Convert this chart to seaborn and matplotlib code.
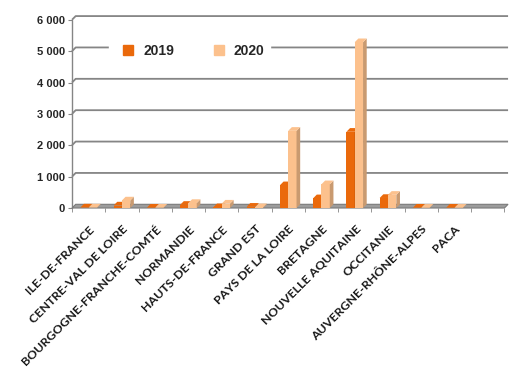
import numpy as np
import pandas as pd
import matplotlib
matplotlib.use('Agg')
import matplotlib.pyplot as plt
import seaborn as sns
from matplotlib.patches import Polygon
from matplotlib.lines import Line2D

# data
regions = ['ILE-DE-FRANCE', 'CENTRE-VAL DE LOIRE', 'BOURGOGNE-FRANCHE-COMTÉ',
           'NORMANDIE', 'HAUTS-DE-FRANCE', 'GRAND EST', 'PAYS DE LA LOIRE',
           'BRETAGNE', 'NOUVELLE AQUITAINE', 'OCCITANIE',
           'AUVERGNE-RHÔNE-ALPES', 'PACA']
v2019 = [15, 80, 10, 100, 25, 40, 725, 310, 2430, 320, 10, 10]
v2020 = [15, 240, 10, 160, 140, 25, 2460, 757, 5285, 420, 8, 8]
years = ['2019', '2020']
yticks = [0, 1000, 2000, 3000, 4000, 5000, 6000]

df = pd.DataFrame({
    'region': regions * 2,
    'annee': [years[0]] * len(regions) + [years[1]] * len(regions),
    'valeur': v2019 + v2020,
})

front = ['#EA690B', '#FCC18D']
side = ['#B0500A', '#C99A70']
grid_c = '#858585'
dx, dy = 0.11, 118   # fake 3D depth (data units)

sns.set_style('white')
fig = plt.figure(figsize=(5.1, 3.67), dpi=100)
ax = fig.add_axes([0.1412, 0.4332, 0.855, 0.523])

sns.barplot(data=df, x='region', y='valeur', hue='annee', order=regions,
            palette=front, width=0.5, gap=0, saturation=1, linewidth=0,
            legend=False, ax=ax)

n = len(regions)
xmin, xmax = -0.5, n + 0.5 + dx
ax.set_xlim(xmin, xmax)
ax.set_ylim(0, yticks[-1] + dy)

# 3D caps and side faces on the bars
bars = [p for p in ax.patches][:2 * n]
for i, p in enumerate(bars):
    k = i // n
    x0, w, h = p.get_x(), p.get_width(), p.get_height()
    p.set_zorder(3 + k)
    top = Polygon([(x0, h), (x0 + dx, h + dy), (x0 + w + dx, h + dy), (x0 + w, h)],
                  closed=True, fc=front[k], ec='none', zorder=3 + k)
    right = Polygon([(x0 + w, 0), (x0 + w + dx, dy), (x0 + w + dx, h + dy), (x0 + w, h)],
                    closed=True, fc=side[k], ec='none', zorder=3 + k)
    ax.add_patch(right)
    ax.add_patch(top)

# floor
ax.add_patch(Polygon([(xmin, 0), (xmin + dx, dy), (xmax, dy), (xmax - dx, 0)],
                     closed=True, fc='#9C9C9C', ec='#7A7A7A', lw=0.8, zorder=2,
                     clip_on=False))

# back-wall gridlines and left wall
for v in yticks[1:]:
    ax.plot([xmin, xmin + dx, xmax], [v, v + dy, v + dy], color=grid_c, lw=1.3,
            zorder=1, clip_on=False, solid_capstyle='butt')
ax.plot([xmin, xmin], [0, yticks[-1]], color=grid_c, lw=1, zorder=1, clip_on=False)

for s in ax.spines.values():
    s.set_visible(False)

ax.set_yticks(yticks)
ax.set_yticklabels([f'{v:,}'.replace(',', ' ') for v in yticks],
                   fontfamily='Liberation Sans', fontweight='bold', fontsize=8)
ax.tick_params(axis='y', length=3, color=grid_c, pad=2, left=True)

ax.set_xticks(range(n))
ax.set_xticklabels(regions, rotation=45, ha='right', rotation_mode='anchor',
                   fontfamily='Lato', fontweight='bold', fontsize=8.9, color='#1a1a1a')
ax.set_xticks(np.arange(-0.5, n + 1, 1), minor=True)
ax.tick_params(axis='x', which='major', length=0, pad=11)
ax.tick_params(axis='x', which='minor', length=3, color=grid_c, bottom=True)
ax.set_xlabel('')
ax.set_ylabel('')

handles = [Line2D([], [], marker='s', ls='none', ms=7, color=c) for c in front]
leg = ax.legend(handles, years, loc='upper left', bbox_to_anchor=(0.069, 0.92),
                ncol=2, frameon=True, fancybox=False, edgecolor='white',
                facecolor='white', framealpha=1, handletextpad=0.05,
                columnspacing=2.25, borderpad=0.4,
                prop={'family': 'Liberation Sans', 'weight': 'bold', 'size': 10})
leg.set_zorder(5)

fig.savefig('out.png', dpi=100)
